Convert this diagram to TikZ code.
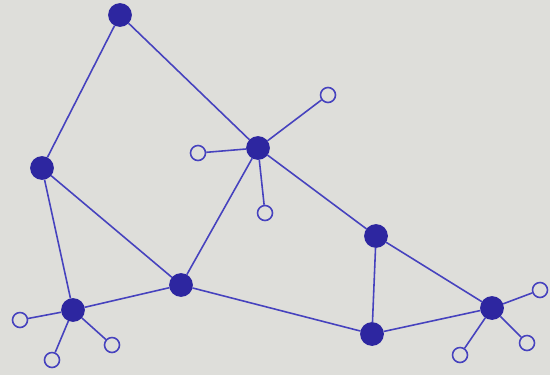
\documentclass[tikz,border=0pt]{standalone}
\usetikzlibrary{backgrounds}
\definecolor{ink}{RGB}{70,66,190}
\definecolor{inkdark}{RGB}{45,38,160}
\definecolor{paper}{RGB}{222,222,218}
\tikzset{
  hub/.style ={circle, draw=inkdark, fill=inkdark, line width=1pt, minimum size=0.44cm, inner sep=0pt},
  leaf/.style={circle, draw=ink, fill=none, line width=0.9pt, minimum size=0.3cm, inner sep=0pt},
  e/.style   ={draw=ink, line width=0.9pt},
}
\begin{document}
\begin{tikzpicture}[x=0.02cm, y=-0.02cm]
\fill[paper] (0,0) rectangle (550,375);
\useasboundingbox (0,0) rectangle (550,375);
%% ---------- hubs ----------
\node[hub] (a) at (120, 15)  {};
\node[hub] (b) at (42, 168)  {};
\node[hub] (c) at (258, 148) {};
\node[hub] (d) at (181, 285) {};
\node[hub] (f) at (73, 310)  {};
\node[hub] (g) at (376, 236) {};
\node[hub] (h) at (372, 334) {};
\node[hub] (k) at (492, 308) {};
%% ---------- leaves ----------
% leaves round c
\node[leaf] (c1) at (328, 95)  {};
\node[leaf] (c2) at (198, 153) {};
\node[leaf] (c3) at (265, 213) {};
% leaves round f
\node[leaf] (f1) at (20, 320)  {};
\node[leaf] (f2) at (52, 360)  {};
\node[leaf] (f3) at (112, 345) {};
% leaves round k
\node[leaf] (k1) at (540, 290) {};
\node[leaf] (k2) at (460, 355) {};
\node[leaf] (k3) at (527, 343) {};
%% ---------- edges ----------
\draw[e] (a) -- (b);  \draw[e] (a) -- (c);
\draw[e] (b) -- (d);  \draw[e] (b) -- (f);
\draw[e] (f) -- (d);  \draw[e] (d) -- (c);
\draw[e] (c) -- (g);  \draw[e] (d) -- (h);
\draw[e] (g) -- (h);  \draw[e] (g) -- (k);
\draw[e] (h) -- (k);
\foreach \l in {c1,c2,c3} \draw[e] (c) -- (\l);
\foreach \l in {f1,f2,f3} \draw[e] (f) -- (\l);
\foreach \l in {k1,k2,k3} \draw[e] (k) -- (\l);
\end{tikzpicture}
\end{document}
